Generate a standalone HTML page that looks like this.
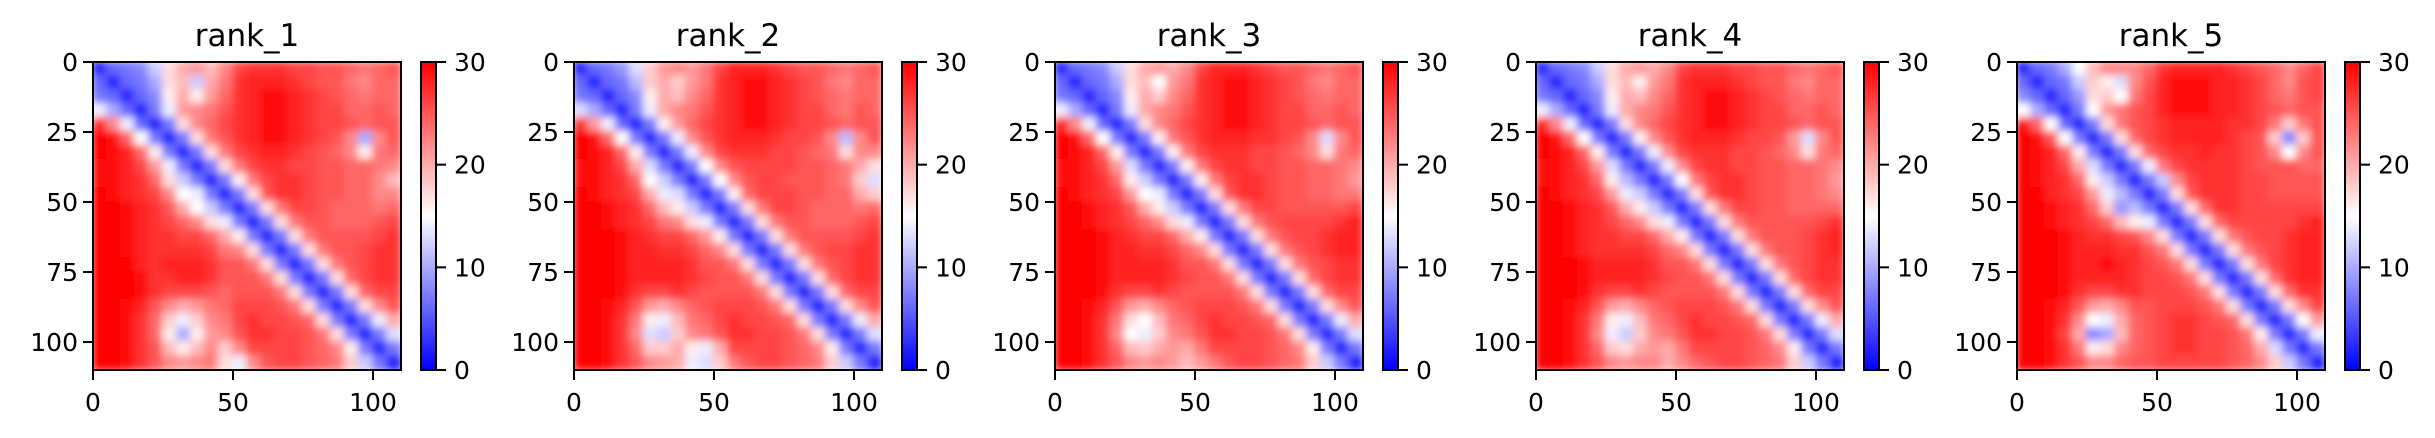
<!DOCTYPE html>
<html><head><meta charset="utf-8">
<style>
html,body{margin:0;padding:0;background:#fff;}
svg{display:block;font-family:"DejaVu Sans","Liberation Sans",sans-serif;}
</style></head>
<body>
<svg id="chart" width="2435" height="438" viewBox="0 0 2435 438">
<defs>
<filter id="soft" x="-5%" y="-5%" width="110%" height="110%"><feGaussianBlur stdDeviation="4"/></filter>
</defs>
</svg>
<script>
const panelTitles = ["rank_1","rank_2","rank_3","rank_4","rank_5"];
const axisTicks = [0,25,50,75,100];
const xTicks = [0,50,100];
const cbarTicks = [0,10,20,30];
const nResidues = 110;
const vmax = 30;
const pae_rank1 = [
[2,6,7,8,12,17,20,21,19,22,26,27,27,27,26,26,25,25,24,23,24,25],
[6,2,6,7,10,17,19,12,20,23,27,28,28,28,27,26,25,25,23,22,24,24],
[7,6,2,6,8,16,20,16,21,24,27,28,29,29,28,27,26,25,24,23,24,24],
[14,10,6,2,7,14,21,22,23,25,27,28,29,29,28,27,26,26,24,24,25,24],
[28,22,14,6,2,7,17,22,24,26,27,28,29,29,28,27,26,26,25,24,25,25],
[30,29,24,15,7,2,7,17,23,25,27,28,29,29,28,27,26,25,22,10,22,25],
[30,29,28,24,16,7,2,7,17,23,26,27,28,28,27,26,25,24,22,16,23,24],
[29,29,28,26,21,14,7,2,7,17,23,26,27,27,26,26,25,25,24,24,23,22],
[29,29,28,27,24,17,12,7,2,7,16,23,26,27,27,26,25,25,24,24,22,19],
[30,29,28,27,26,22,15,14,7,2,7,17,25,27,27,26,25,25,24,24,22,22],
[30,30,29,28,27,25,20,15,12,7,2,7,17,23,26,26,25,24,24,24,23,24],
[30,30,29,28,27,26,24,22,17,14,7,2,7,17,23,25,25,24,24,24,25,26],
[30,30,29,28,27,27,26,26,24,20,16,7,2,7,17,23,25,25,25,25,26,27],
[30,30,29,28,27,27,27,27,26,23,22,17,7,2,7,17,23,25,25,26,27,27],
[30,30,30,28,27,28,28,28,27,25,25,23,17,7,2,7,17,23,25,26,27,27],
[30,30,30,29,27,27,28,28,27,25,25,25,23,17,7,2,7,17,24,26,27,27],
[30,30,30,29,27,26,26,26,25,24,25,25,25,23,17,7,2,7,17,24,26,26],
[30,30,29,28,25,22,20,21,23,24,26,26,26,25,23,17,7,2,7,17,22,25],
[30,30,29,27,24,18,14,18,22,23,26,27,26,26,25,24,17,7,2,7,14,20],
[30,30,29,27,24,16,10,16,21,22,25,27,27,26,26,25,23,17,7,2,7,13],
[30,30,29,27,25,19,16,19,22,18,22,26,26,26,26,25,24,22,16,7,2,7],
[30,30,29,27,25,22,21,22,23,17,14,22,25,26,26,25,24,23,18,12,7,2]];
const pae_rank2 = [
[2,6,7,9,13,18,21,22,21,23,26,28,28,28,27,26,25,25,24,23,24,25],
[6,2,6,7,11,18,20,18,21,23,27,28,29,29,28,27,26,25,23,22,24,24],
[7,6,2,6,8,16,20,19,22,24,27,28,29,29,28,27,26,25,24,23,24,24],
[13,10,6,2,7,14,20,22,23,25,27,28,29,29,28,27,26,26,24,23,25,24],
[27,21,14,6,2,7,16,21,24,26,27,28,29,29,28,27,26,26,25,24,25,25],
[30,29,24,15,7,2,7,14,22,25,27,28,28,28,27,26,26,25,22,11,22,25],
[30,29,28,24,16,7,2,7,14,22,26,27,27,27,26,26,25,24,23,17,22,22],
[29,29,28,26,20,13,7,2,7,15,22,25,26,26,26,26,25,25,24,23,20,17],
[29,29,28,27,24,15,12,7,2,7,15,22,25,26,26,25,25,25,24,23,18,13],
[30,29,28,27,26,20,14,13,7,2,7,16,24,26,26,26,25,25,24,24,20,18],
[30,30,29,28,27,24,19,16,12,7,2,7,17,23,26,26,25,24,24,24,23,24],
[30,30,29,28,27,26,23,22,17,14,7,2,7,17,23,25,25,24,24,24,25,26],
[30,30,30,29,28,27,26,26,24,21,16,7,2,7,17,23,25,25,25,25,26,27],
[30,30,30,29,28,28,27,27,26,24,22,17,7,2,7,17,23,25,26,26,27,27],
[30,30,30,29,28,28,28,28,27,25,25,23,17,7,2,7,17,23,25,26,27,27],
[30,30,30,29,28,28,28,28,27,26,25,25,23,17,7,2,7,17,24,26,27,27],
[30,30,30,29,27,26,26,27,26,25,25,25,25,23,17,7,2,7,17,24,26,26],
[30,30,29,28,25,21,20,22,24,25,26,26,26,25,23,17,7,2,7,17,22,25],
[30,30,29,27,23,16,14,19,23,24,26,27,26,26,25,24,17,7,2,7,14,20],
[30,30,29,27,22,13,12,18,22,23,25,27,27,26,26,25,23,17,7,2,7,13],
[30,30,29,27,24,18,18,20,16,14,20,26,26,26,26,25,24,22,16,7,2,7],
[30,30,29,27,25,22,21,20,14,13,18,23,25,26,26,25,24,23,18,12,7,2]];
const pae_rank3 = [
[2,6,7,8,12,17,20,21,20,22,26,28,28,28,27,26,25,25,24,23,24,25],
[6,2,6,7,10,17,19,15,21,23,27,28,29,29,28,27,26,25,23,22,24,24],
[7,6,2,6,8,16,20,18,22,24,27,28,29,29,28,27,26,25,24,23,24,24],
[14,10,6,2,7,14,20,22,23,25,27,28,29,29,28,27,26,26,24,24,25,24],
[28,22,14,6,2,7,17,22,24,26,27,28,29,29,28,27,26,26,25,24,25,25],
[30,29,24,15,7,2,7,16,23,25,27,28,28,28,27,27,26,25,22,13,22,25],
[30,29,28,24,16,7,2,7,16,23,26,27,27,27,26,26,25,24,22,17,23,24],
[29,29,28,26,21,13,7,2,7,16,23,26,27,27,26,26,25,25,24,24,23,22],
[29,29,28,27,24,16,12,7,2,7,16,23,26,27,27,26,25,25,24,24,23,21],
[30,29,28,27,26,21,15,14,7,2,7,17,25,27,27,26,25,25,24,24,23,23],
[30,30,29,28,27,25,20,16,12,7,2,7,17,23,26,26,25,25,25,25,25,26],
[30,30,29,28,27,26,24,22,17,14,7,2,7,17,23,25,26,26,26,26,27,28],
[30,30,30,29,28,27,26,26,24,20,16,7,2,7,17,23,25,26,26,27,28,28],
[30,30,30,29,28,28,27,27,26,24,22,17,7,2,7,17,23,25,26,27,28,28],
[30,30,30,29,28,28,28,28,27,25,25,23,17,7,2,7,17,23,25,26,27,27],
[30,30,30,29,28,28,28,28,27,26,25,25,23,17,7,2,7,17,24,26,27,27],
[30,30,30,29,27,26,26,27,26,25,25,25,25,23,17,7,2,7,17,24,26,26],
[30,30,29,28,25,21,20,22,24,25,26,26,26,25,23,17,7,2,7,17,22,25],
[30,30,29,27,23,17,15,19,23,24,26,27,26,26,25,24,17,7,2,7,14,20],
[30,30,29,27,22,15,14,18,22,23,25,27,27,26,26,25,23,17,7,2,7,13],
[30,30,29,27,24,19,18,20,21,20,23,26,26,26,26,25,24,22,16,7,2,7],
[30,30,29,27,25,22,21,22,21,19,21,23,25,26,26,25,24,23,18,12,7,2]];
const pae_rank4 = [
[2,6,7,8,12,17,20,21,20,22,26,27,27,27,26,26,25,25,24,23,24,25],
[6,2,6,7,10,17,19,16,21,23,27,28,28,28,27,26,25,25,23,22,24,24],
[7,6,2,6,8,16,20,19,22,24,27,28,29,29,28,27,26,25,24,23,24,24],
[14,10,6,2,7,14,20,22,23,25,27,28,29,29,28,27,26,26,24,24,25,24],
[28,22,14,6,2,7,17,22,24,26,27,28,29,29,28,27,26,26,25,24,25,25],
[30,29,24,15,7,2,7,16,22,25,27,28,28,28,27,26,26,25,21,13,22,25],
[30,29,28,24,16,7,2,7,14,22,26,27,27,27,26,26,25,24,22,17,23,24],
[29,29,28,26,21,13,7,2,7,14,22,26,27,27,26,26,25,25,24,24,23,22],
[29,29,28,27,24,16,11,7,2,7,15,23,26,27,27,26,25,25,24,24,23,21],
[30,29,28,27,26,21,14,12,7,2,7,17,25,27,27,26,25,25,24,24,23,22],
[30,30,29,28,27,25,20,16,12,7,2,7,17,23,26,26,25,25,24,24,24,24],
[30,30,29,28,27,26,24,22,17,14,7,2,7,17,23,25,25,25,25,25,26,27],
[30,30,29,28,27,27,26,26,24,20,16,7,2,7,17,23,25,25,25,26,27,28],
[30,30,29,28,27,27,27,27,26,24,22,17,7,2,7,17,23,25,25,26,27,28],
[30,30,30,29,28,28,28,28,27,25,25,23,17,7,2,7,17,23,25,26,27,27],
[30,30,30,29,28,28,28,28,27,26,25,25,23,17,7,2,7,17,24,26,27,27],
[30,30,30,29,27,26,26,27,26,25,25,25,25,23,17,7,2,7,17,24,26,26],
[30,30,29,28,25,21,20,22,24,25,26,26,26,25,23,17,7,2,7,17,22,25],
[30,30,29,27,23,16,14,19,23,24,26,27,26,26,25,24,17,7,2,7,14,20],
[30,30,29,27,22,14,12,18,22,23,25,27,27,26,26,25,23,17,7,2,7,13],
[30,30,29,27,24,18,17,20,21,20,23,26,26,26,26,25,24,22,16,7,2,7],
[30,30,29,27,25,22,21,22,22,20,22,24,25,26,26,25,24,23,18,12,7,2]];
const pae_rank5 = [
[2,6,7,10,15,19,22,22,22,24,27,28,28,28,28,27,26,25,24,22,24,26],
[6,2,6,7,12,18,16,13,22,25,28,29,29,29,28,28,27,26,24,22,25,26],
[8,6,2,6,9,17,18,15,23,26,28,29,29,29,28,28,27,26,24,23,25,26],
[15,10,6,2,7,15,21,23,25,26,28,29,29,29,28,28,27,26,25,24,25,25],
[29,24,15,6,2,7,17,23,25,26,27,28,28,28,28,27,27,26,23,18,23,25],
[30,29,25,15,7,2,7,17,24,26,27,28,28,28,28,27,26,25,18,8,18,25],
[30,29,28,24,16,7,2,7,17,24,26,27,27,28,27,27,26,25,22,15,22,25],
[30,29,28,26,20,13,7,2,7,14,23,26,27,27,27,27,26,25,25,25,24,24],
[30,29,28,27,24,16,12,7,2,7,12,22,26,27,27,27,26,26,25,25,25,25],
[30,30,28,27,26,21,14,11,7,2,7,17,25,27,27,27,26,26,25,25,25,25],
[30,30,29,28,27,24,18,9,11,7,2,7,17,24,27,27,26,26,26,26,26,26],
[30,30,29,28,27,26,24,19,16,14,7,2,7,17,24,26,26,26,26,26,27,28],
[30,30,30,29,28,27,27,26,25,22,17,7,2,7,17,23,25,26,26,27,28,28],
[30,30,30,29,28,28,28,27,27,25,23,17,7,2,7,17,23,25,26,27,28,28],
[30,30,30,29,28,28,29,28,27,26,25,23,17,7,2,7,17,23,26,27,28,28],
[30,30,30,29,28,28,28,28,27,26,26,25,23,17,7,2,7,17,24,27,28,28],
[30,30,30,29,27,26,26,27,27,26,26,26,25,23,17,7,2,7,17,24,27,27],
[30,30,29,28,25,21,20,22,25,25,26,26,26,25,23,17,7,2,7,17,22,26],
[30,30,29,27,22,15,14,20,24,25,26,27,27,26,25,24,17,7,2,7,15,21],
[30,30,29,26,20,8,10,19,24,25,26,27,27,26,26,25,23,16,7,2,7,14],
[30,30,29,27,23,16,17,22,24,25,26,27,27,26,26,25,24,20,13,7,2,7],
[30,30,29,27,25,22,22,24,25,25,26,26,26,26,26,25,24,22,18,12,7,2]];
const panelData = [pae_rank1,pae_rank2,pae_rank3,pae_rank4,pae_rank5];

const NS = "http://www.w3.org/2000/svg";
const svg = document.getElementById("chart");
const defs = svg.querySelector("defs");
const PW = 308, PTOP = 62, PSTEP = 481, PLEFT0 = 93;
function bwr(v){
  let t = Math.max(0, Math.min(1, v / vmax));
  let r,g,b;
  if (t < 0.5){ const s = t/0.5; r = Math.round(255*s); g = r; b = 255; }
  else { const s = (t-0.5)/0.5; r = 255; g = Math.round(255*(1-s)); b = g; }
  return "rgb("+r+","+g+","+b+")";
}
function mk(tag, attrs){ const e = document.createElementNS(NS, tag); for (const k in attrs) e.setAttribute(k, attrs[k]); return e; }

panelData.forEach((mat, p) => {
  const left = PLEFT0 + p*PSTEP;
  const xs = v => left + v/nResidues*PW;
  const ys = v => PTOP + v/nResidues*PW;
  const n = mat.length;
  const step = nResidues / n;
  const g = mk("g", {});
  
  
  svg.appendChild(g);

  const cp = mk("clipPath", {id: "clip"+p});
  cp.appendChild(mk("rect", {x:left, y:PTOP, width:PW, height:PW}));
  defs.appendChild(cp);
  const clipG = mk("g", {"clip-path":"url(#clip"+p+")"});
  const heat = mk("g", {filter:"url(#soft)"});
  
  
  clipG.appendChild(heat);
  g.appendChild(clipG);
  for (let i=0;i<n;i++){
    for (let j=0;j<n;j++){
      const x0 = xs(j*step), y0 = ys(i*step);
      const cell = mk("rect", {x:x0-1, y:y0-1, width:xs((j+1)*step)-x0+2, height:ys((i+1)*step)-y0+2, fill:bwr(mat[i][j])});
      
      
      heat.appendChild(cell);
    }
  }
  const frame = mk("rect", {x:left, y:PTOP, width:PW, height:PW, fill:"none", stroke:"#000", "stroke-width":2});
  
  
  g.appendChild(frame);

  const title = mk("text", {x:left+PW/2, y:46, "text-anchor":"middle", "font-size":31, fill:"#000"});
  title.textContent = panelTitles[p];
  
  
  g.appendChild(title);

  axisTicks.forEach(t => {
    const y = ys(t);
    g.appendChild(mk("line", {x1:left-10, x2:left, y1:y, y2:y, stroke:"#000", "stroke-width":2}));
    const lb = mk("text", {x:left-15, y:y+9, "text-anchor":"end", "font-size":25, fill:"#000"});
    lb.textContent = t;
    
    
    g.appendChild(lb);
  });
  xTicks.forEach(t => {
    const x = xs(t);
    g.appendChild(mk("line", {x1:x, x2:x, y1:PTOP+PW, y2:PTOP+PW+10, stroke:"#000", "stroke-width":2}));
    const lb = mk("text", {x:x, y:411, "text-anchor":"middle", "font-size":25, fill:"#000"});
    lb.textContent = t;
    
    
    g.appendChild(lb);
  });

  const cbx = left + 328, cbw = 15;
  const gid = "cbgrad"+p;
  const grad = mk("linearGradient", {id:gid, x1:0, y1:1, x2:0, y2:0});
  grad.appendChild(mk("stop", {offset:"0", "stop-color":bwr(0)}));
  grad.appendChild(mk("stop", {offset:"0.5", "stop-color":bwr(vmax/2)}));
  grad.appendChild(mk("stop", {offset:"1", "stop-color":bwr(vmax)}));
  defs.appendChild(grad);
  const cb = mk("rect", {x:cbx, y:PTOP, width:cbw, height:PW, fill:"url(#"+gid+")", stroke:"#000", "stroke-width":2});
  
  
  g.appendChild(cb);
  cbarTicks.forEach(t => {
    const y = PTOP + PW - t/vmax*PW;
    g.appendChild(mk("line", {x1:cbx+cbw, x2:cbx+cbw+10, y1:y, y2:y, stroke:"#000", "stroke-width":2}));
    const lb = mk("text", {x:cbx+cbw+18, y:y+9, "text-anchor":"start", "font-size":25, fill:"#000"});
    lb.textContent = t;
    
    
    g.appendChild(lb);
  });
});
</script>
</body></html>
